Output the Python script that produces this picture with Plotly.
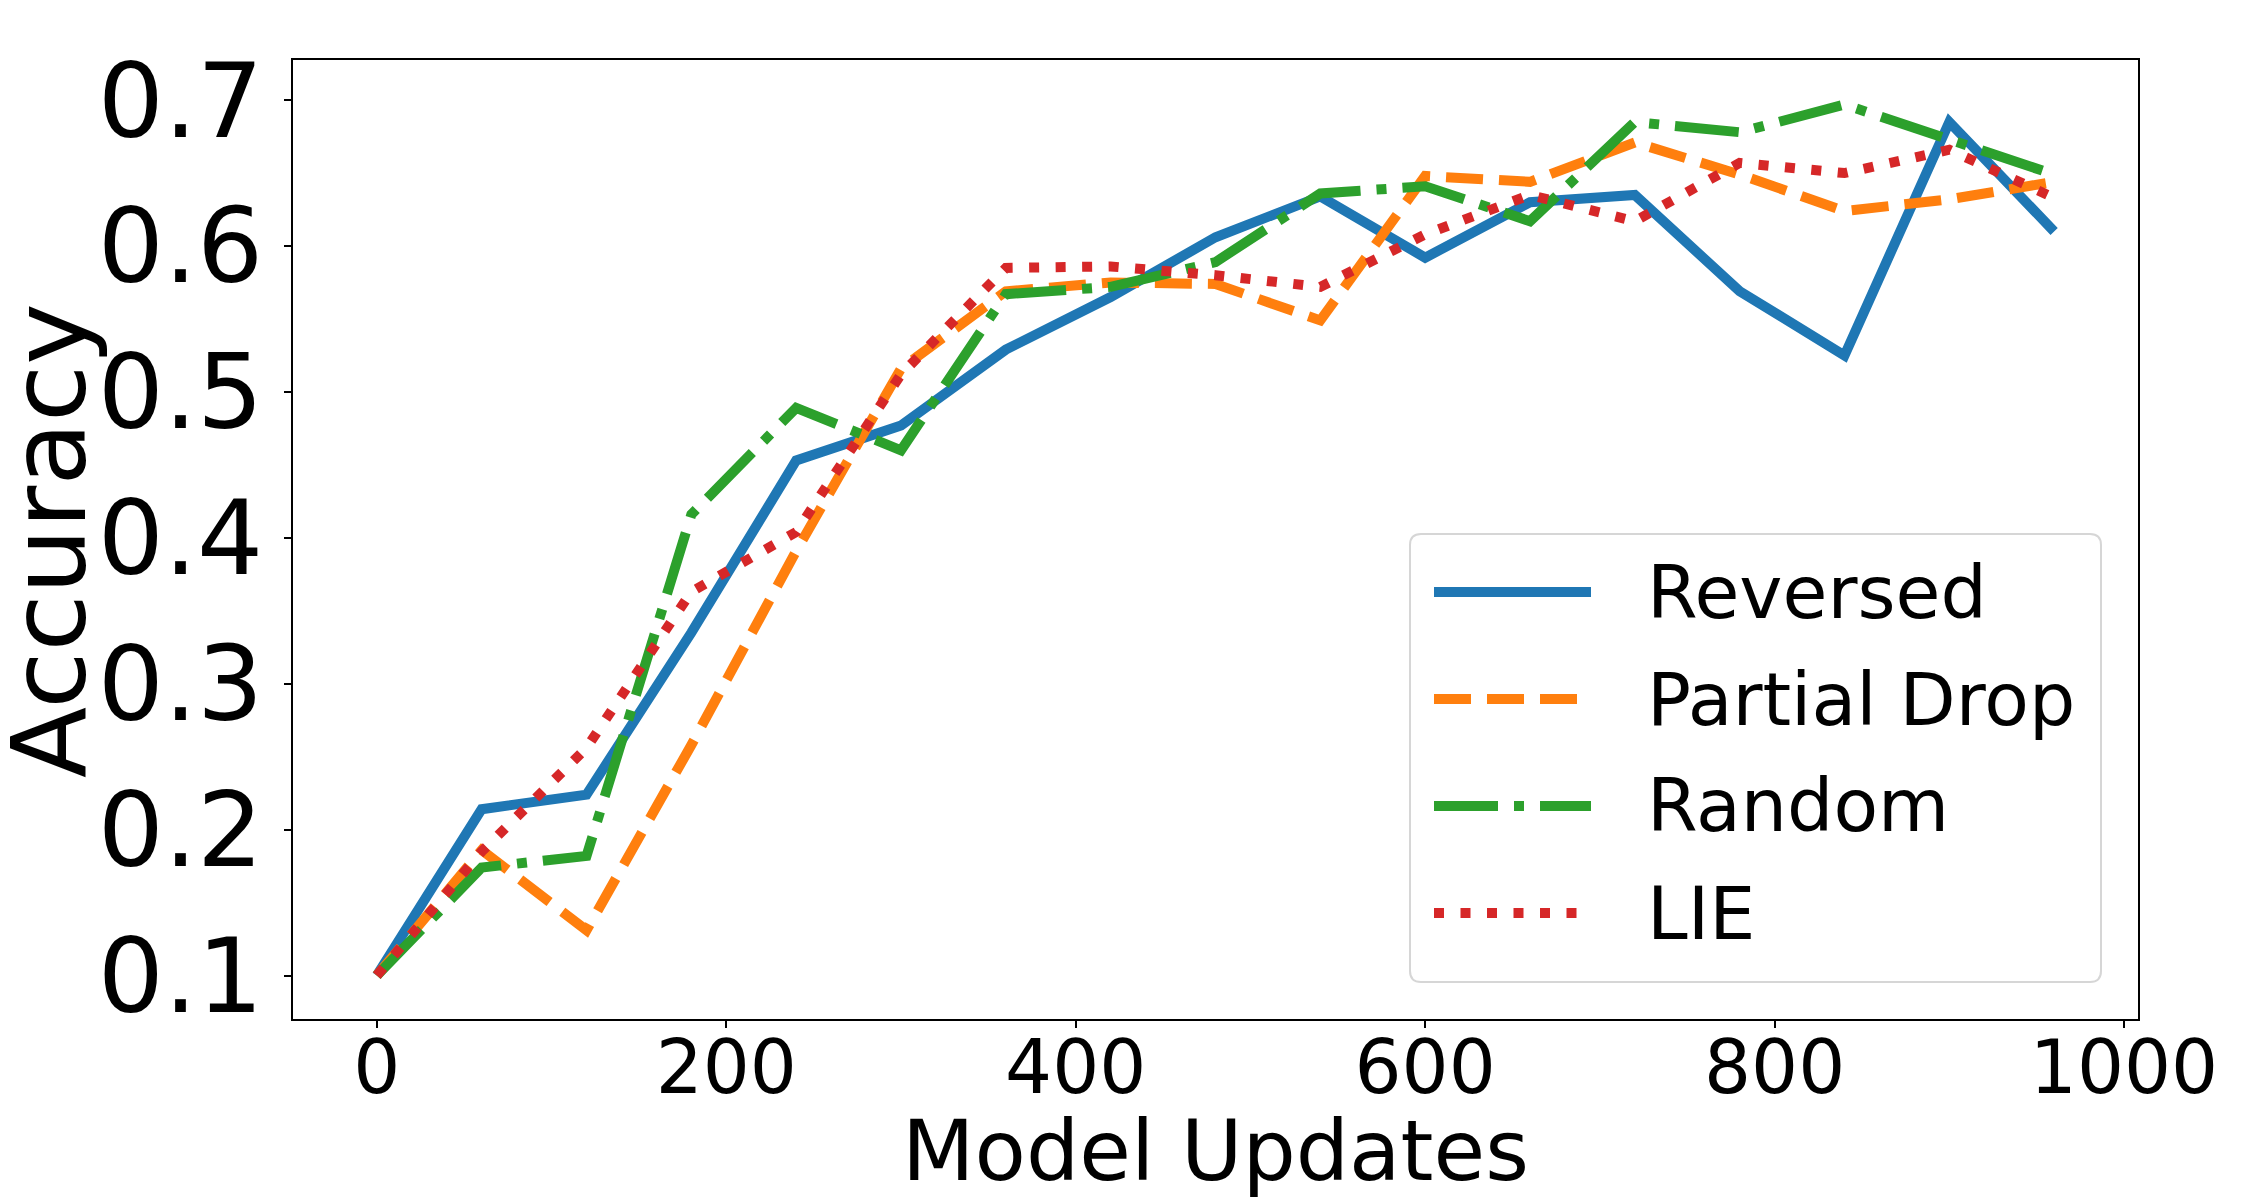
import plotly.graph_objects as go

# ---- data ----
model_updates = [0, 60, 120, 180, 240, 300, 360, 420, 480, 540, 600, 660, 720, 780, 840, 900, 960]
reversed_acc = [0.100, 0.214, 0.224, 0.335, 0.453, 0.477, 0.529, 0.565, 0.606, 0.634, 0.592, 0.630, 0.635, 0.569, 0.525, 0.685, 0.610]
partial_drop_acc = [0.100, 0.186, 0.131, 0.258, 0.391, 0.516, 0.569, 0.575, 0.574, 0.549, 0.648, 0.644, 0.671, 0.649, 0.624, 0.632, 0.644]
random_acc = [0.100, 0.174, 0.182, 0.416, 0.489, 0.460, 0.567, 0.572, 0.589, 0.636, 0.641, 0.617, 0.685, 0.678, 0.697, 0.673, 0.649]
lie_acc = [0.100, 0.185, 0.256, 0.363, 0.404, 0.512, 0.585, 0.586, 0.580, 0.572, 0.608, 0.635, 0.617, 0.657, 0.650, 0.666, 0.633]

series_names = ["Reversed", "Partial Drop", "Random", "LIE"]
series_values = [reversed_acc, partial_drop_acc, random_acc, lie_acc]
colors = ["#1f77b4", "#ff7f0e", "#2ca02c", "#d62728"]
dashes = ["solid", "37px,16px", "64px,16px,10px,16px", "10px,16.5px"]

x_ticks = [0, 200, 400, 600, 800, 1000]
y_ticks = [0.1, 0.2, 0.3, 0.4, 0.5, 0.6, 0.7]

FONT = "DejaVu Sans"
LW = 10

fig = go.Figure()
for name, vals, c, d in zip(series_names, series_values, colors, dashes):
    fig.add_trace(go.Scatter(
        x=model_updates, y=vals, mode="lines", name=name,
        line=dict(color=c, width=LW, dash=d), showlegend=False,
    ))

# ---- layout geometry (pixels) ----
W, H = 2250, 1200
L, R, T, B = 293, 112, 60, 181
pw, ph = W - L - R, H - T - B

def px2paper(px, py):
    return (px - L) / pw, (H - B - py) / ph

# manual legend (matplotlib-style rounded frame)
bx0, by0, bx1, by1 = 1410, 534, 2101, 982
rpx = 11
rx, ry = rpx / pw, rpx / ph
X0, Y1 = px2paper(bx0, by0)
X1, Y0 = px2paper(bx1, by1)
path = (f"M {X0+rx},{Y0} L {X1-rx},{Y0} Q {X1},{Y0} {X1},{Y0+ry} "
        f"L {X1},{Y1-ry} Q {X1},{Y1} {X1-rx},{Y1} L {X0+rx},{Y1} "
        f"Q {X0},{Y1} {X0},{Y1-ry} L {X0},{Y0+ry} Q {X0},{Y0} {X0+rx},{Y0} Z")
shapes = [dict(type="path", xref="paper", yref="paper", path=path,
               fillcolor="rgba(255,255,255,0.85)", line=dict(color="#d6d6d6", width=2), layer="above")]
annotations = []
row_y = [592, 699, 806, 913]
for name, c, d, yy in zip(series_names, colors, dashes, row_y):
    lx0, ly = px2paper(1434, yy)
    lx1, _ = px2paper(1591, yy)
    shapes.append(dict(type="line", xref="paper", yref="paper", x0=lx0, x1=lx1, y0=ly, y1=ly,
                       line=dict(color=c, width=LW, dash=d), layer="above"))
    tx, _ = px2paper(1645, yy)
    annotations.append(dict(xref="paper", yref="paper", x=tx, y=ly, text=name, showarrow=False,
                            xanchor="left", yanchor="middle", font=dict(family=FONT, size=73, color="black")))

# y-axis title placed like matplotlib's (closer to the edge than plotly's default)
ax_x, ax_y = px2paper(49, 541)
annotations.append(dict(xref="paper", yref="paper", x=ax_x, y=ax_y, text="Accuracy", showarrow=False,
                        textangle=-90, xanchor="center", yanchor="middle",
                        font=dict(family=FONT, size=104, color="black")))

fig.update_layout(
    width=W, height=H,
    margin=dict(l=L, r=R, t=T, b=B, pad=0),
    paper_bgcolor="white", plot_bgcolor="white",
    font=dict(family=FONT, color="black"),
    shapes=shapes, annotations=annotations,
    showlegend=False,
)
fig.update_xaxes(
    range=[-48, 1008], tickvals=x_ticks, ticktext=[str(v) for v in x_ticks],
    showline=True, linecolor="black", linewidth=2, mirror=True,
    ticks="outside", ticklen=7, tickwidth=1.5, tickcolor="black",
    showgrid=False, zeroline=False, ticklabelstandoff=-24,
    tickfont=dict(family=FONT, size=74, color="black"),
    title=dict(text="Model Updates", font=dict(family=FONT, size=84, color="black"), standoff=8),
)
fig.update_yaxes(
    range=[0.0702, 0.7275], tickvals=y_ticks, ticktext=[f"{v:.1f}" for v in y_ticks],
    showline=True, linecolor="black", linewidth=2, mirror=True,
    ticks="outside", ticklen=7, tickwidth=1.5, tickcolor="black",
    showgrid=False, zeroline=False,
    tickfont=dict(family=FONT, size=104, color="black"),
)

fig.write_html("out.html")
